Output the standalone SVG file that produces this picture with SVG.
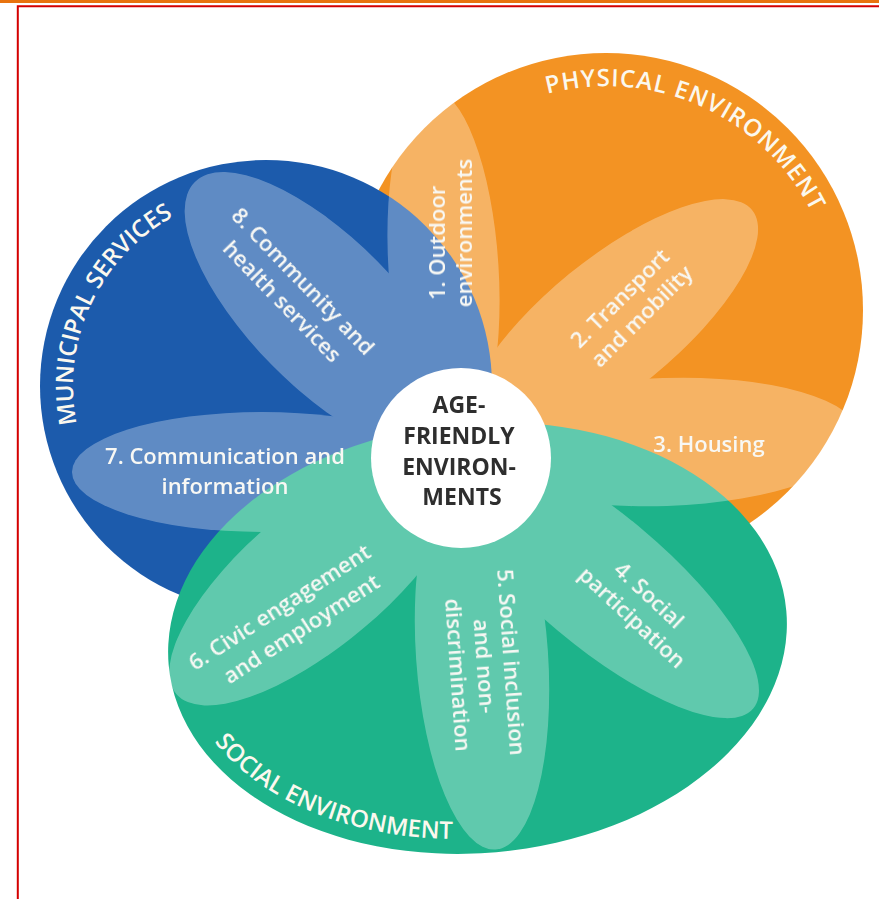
<svg xmlns="http://www.w3.org/2000/svg" width="879" height="899" viewBox="0 0 879 899">
  <defs>
    <style>
      .domain{font-family:"Open Sans","Liberation Sans",sans-serif;font-weight:600;font-size:24px;fill:#FBF8EE;}
      .topic{font-family:"Open Sans","Liberation Sans",sans-serif;font-weight:600;font-size:22px;fill:#F8F8F4;text-anchor:middle;}
      .hub{font-family:"Open Sans","Liberation Sans",sans-serif;font-weight:700;font-size:23px;fill:#2E2E2E;text-anchor:middle;}
      .petal{fill:#FFFFFF;}
    </style>
    <!-- baselines for the curved domain titles -->
    <path id="arc-physical" d="M474.1,128.2 A230,230 0 0 1 835.1,290"/>
    <path id="arc-municipal" d="M107.9,496.7 A193,193 0 0 1 249.2,193.7"/>
    <path id="arc-social" d="M182.4,660.3 A296,200 -5 0 0 540.8,830.8"/>
  </defs>

  <rect width="879" height="899" fill="#FFFFFF"/>

  <!-- page frame -->
  <g id="frame">
    <rect x="0" y="0" width="879" height="3" fill="#E8730E"/>
    <path d="M17.8,899 V6.2 H879" fill="none" stroke="#D40000" stroke-width="2"/>
  </g>

  <!-- three domains -->
  <g id="physical-environment">
    <circle cx="606" cy="310" r="257" fill="#F39323"/>
    <text class="domain" letter-spacing="1"><textPath href="#arc-physical" startOffset="50%" text-anchor="middle">PHYSICAL ENVIRONMENT</textPath></text>
  </g>

  <g id="municipal-services">
    <circle cx="266" cy="386" r="226" fill="#1C5BAC"/>
    <text class="domain"><textPath href="#arc-municipal" startOffset="50%" text-anchor="middle">MUNICIPAL SERVICES</textPath></text>
  </g>

  <g id="social-environment">
    <ellipse cx="477.5" cy="638" rx="310" ry="215" transform="rotate(-5 477.5 638)" fill="#1DB38A"/>
    <text class="domain"><textPath href="#arc-social" startOffset="50%" text-anchor="middle">SOCIAL ENVIRONMENT</textPath></text>
  </g>

  <!-- eight petals, tinted as one flower -->
  <g id="petals" opacity="0.3">
    <ellipse class="petal" rx="178" ry="55" transform="translate(443.5,268) rotate(-93.7)"/>
    <ellipse class="petal" rx="182" ry="66" transform="translate(611,325) rotate(-39.2)"/>
    <ellipse class="petal" rx="195" ry="64" transform="translate(665,442) rotate(-2)"/>
    <ellipse class="petal" rx="200" ry="66" transform="translate(600,580) rotate(40)"/>
    <ellipse class="petal" rx="195" ry="66" transform="translate(482,655) rotate(86)"/>
    <ellipse class="petal" rx="185" ry="70" transform="translate(318,575) rotate(140)"/>
    <ellipse class="petal" rx="190" ry="60" transform="translate(262,472) rotate(180)"/>
    <ellipse class="petal" rx="185" ry="74" transform="translate(325,313.5) rotate(-134.7)"/>
  </g>

  <!-- centre -->
  <g id="age-friendly-environments">
    <circle cx="461" cy="458" r="90" fill="#FFFFFF"/>
    <text class="hub">
      <tspan x="462" y="413">AGE-</tspan>
      <tspan x="462" y="444">FRIENDLY</tspan>
      <tspan x="462" y="474.5">ENVIRON-</tspan>
      <tspan x="462" y="505">MENTS</tspan>
    </text>
  </g>

  <!-- petal topics -->
  <g id="topic-1">
    <text class="topic" transform="translate(451,236.5) rotate(-90)">
      <tspan x="-3.5" y="-6.25">1. Outdoor</tspan>
      <tspan x="3.5" y="21.25">environments</tspan>
    </text>
  </g>
  <g id="topic-2">
    <text class="topic" transform="translate(631.5,306) rotate(-45)">
      <tspan x="0" y="-6.5">2. Transport</tspan>
      <tspan x="0" y="21.5">and mobility</tspan>
    </text>
  </g>
  <g id="topic-3">
    <text class="topic" x="709" y="452">3. Housing</text>
  </g>
  <g id="topic-4">
    <text class="topic" transform="translate(642,607) rotate(43)">
      <tspan x="0" y="-6.5">4. Social</tspan>
      <tspan x="0" y="21.5">participation</tspan>
    </text>
  </g>
  <g id="topic-5">
    <text class="topic" transform="translate(485,670) rotate(86)">
      <tspan x="-3" y="-19.5">5. Social inclusion</tspan>
      <tspan x="-1" y="7.5">and non-</tspan>
      <tspan x="3" y="34.5">discrimination</tspan>
    </text>
  </g>
  <g id="topic-6">
    <text class="topic" transform="translate(291.5,617) rotate(-33)">
      <tspan x="-1.8" y="-7.5">6. Civic engagement</tspan>
      <tspan x="1.8" y="22.5">and employment</tspan>
    </text>
  </g>
  <g id="topic-7">
    <text class="topic" x="225" y="464">7. Communication and</text>
    <text class="topic" x="225" y="494">information</text>
  </g>
  <g id="topic-8">
    <text class="topic" transform="translate(293.5,292.5) rotate(46)">
      <tspan x="1.5" y="-7">8. Community and</tspan>
      <tspan x="-1.5" y="22">health services</tspan>
    </text>
  </g>
</svg>
